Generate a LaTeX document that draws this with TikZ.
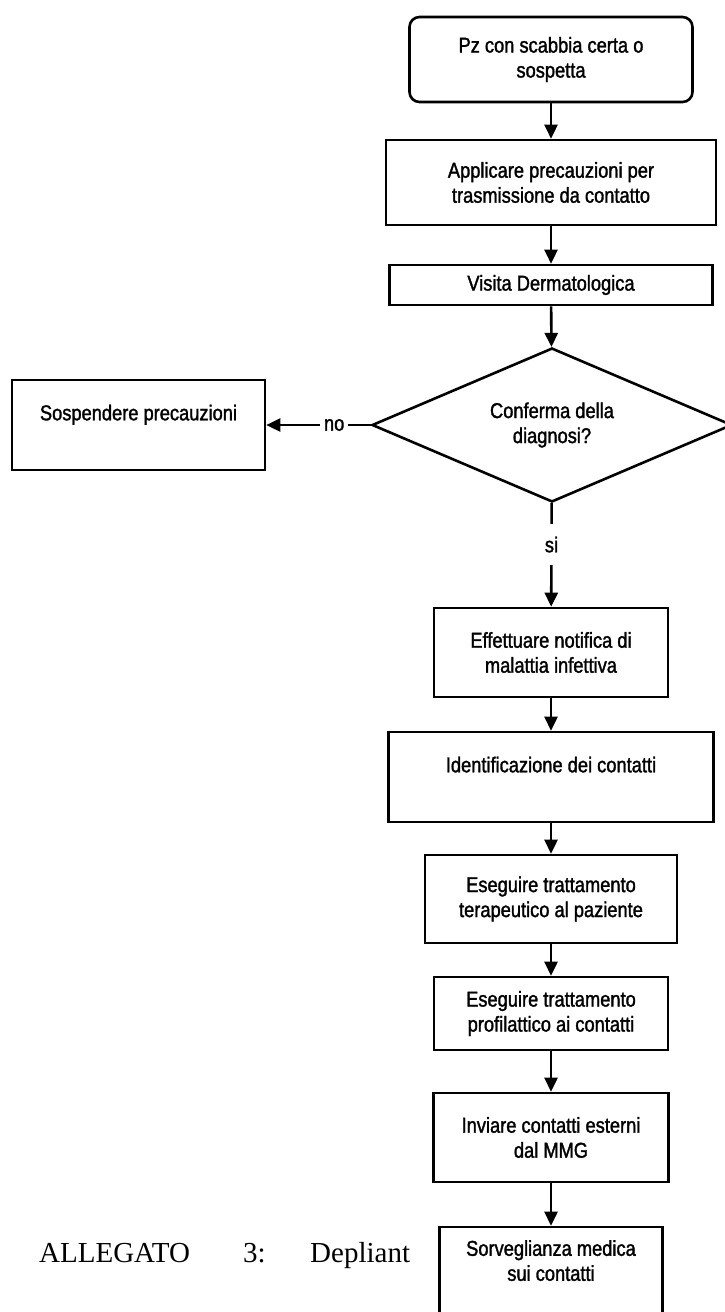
\documentclass[tikz,border=0pt]{standalone}
\usepackage{fontspec}
\setmainfont{Liberation Serif}
\newfontfamily\boxfont[FakeStretch=0.85,FakeBold=1.5]{Liberation Sans}
\usetikzlibrary{shapes.geometric,arrows.meta}

\begin{document}
\begin{tikzpicture}[x=1pt, y=-1pt,
    box/.style={draw, line width=2.6pt, align=center, inner sep=0pt,
      font=\boxfont\fontsize{21.5}{25}\selectfont},
    decision/.style={draw, diamond, aspect=2.3, line width=2.6pt, align=center,
      inner sep=0pt, minimum width=360pt, minimum height=154pt,
      font=\boxfont\fontsize{21.5}{25}\selectfont},
    arr/.style={line width=2.6pt, -{Triangle[length=14pt,width=13pt]}},
    lbl/.style={fill=white, font=\boxfont\fontsize{21.5}{25}\selectfont}]
  \useasboundingbox (0,0) rectangle (724,1312);

  % Main column of steps
  \node[box, rounded corners=10pt, minimum width=283pt, minimum height=85pt] (start) at (551,59.5) {Pz con scabbia certa o\\sospetta};
  \node[box, minimum width=330pt, minimum height=85pt] (prec) at (551,182.5) {Applicare precauzioni per\\trasmissione da contatto};
  \node[box, minimum width=323pt, minimum height=40pt] (visita) at (551,285) {Visita Dermatologica};
  \node[decision] (diag) at (552,425) {Conferma della\\diagnosi?};
  \node[box, minimum width=234pt, minimum height=89pt] (notif) at (551,652.5) {Effettuare notifica di\\malattia infettiva};
  \node[box, minimum width=325pt, minimum height=90pt] (ident) at (551,777) {Identificazione dei contatti\\\mbox{}};
  \node[box, minimum width=252pt, minimum height=88pt] (terap) at (551,899) {Eseguire trattamento\\terapeutico al paziente};
  \node[box, minimum width=234pt, minimum height=73pt] (profil) at (551,1013.5) {Eseguire trattamento\\profilattico ai contatti};
  \node[box, minimum width=235pt, minimum height=89pt] (mmg) at (551,1137.5) {Inviare contatti esterni\\dal MMG};
  \node[box, minimum width=223pt, minimum height=92pt] (sorv) at (551,1273) {Sorveglianza medica\\sui contatti\\\mbox{}};

  % Negative branch
  \node[box, minimum width=253pt, minimum height=90pt] (sosp) at (138.5,425) {Sospendere precauzioni\\\mbox{}};

  % Arrows between the steps
  \foreach \a/\b in {start/prec, prec/visita, visita/diag, notif/ident, ident/terap, terap/profil, profil/mmg, mmg/sorv} {
    \draw[arr] (\a) -- (\b);
  }
  \draw[arr] (diag) -- node[lbl, pos=0.35, inner xsep=4pt, inner ysep=2pt] {no} (sosp);
  \draw[arr] (diag) -- node[lbl, pos=0.4, inner xsep=2pt, inner ysep=13pt] {si} (notif);

  % Caption at the bottom
  \node[anchor=base west, inner sep=0pt, font=\fontsize{29}{34}\selectfont] (alleg) at (39,1262) {ALLEGATO};
  \node[anchor=base west, inner sep=0pt, font=\fontsize{29}{34}\selectfont] (num) at (243,1262) {3:};
  \node[anchor=base west, inner sep=0pt, font=\fontsize{29}{34}\selectfont] (depl) at (310,1262) {Depliant};
\end{tikzpicture}
\end{document}
